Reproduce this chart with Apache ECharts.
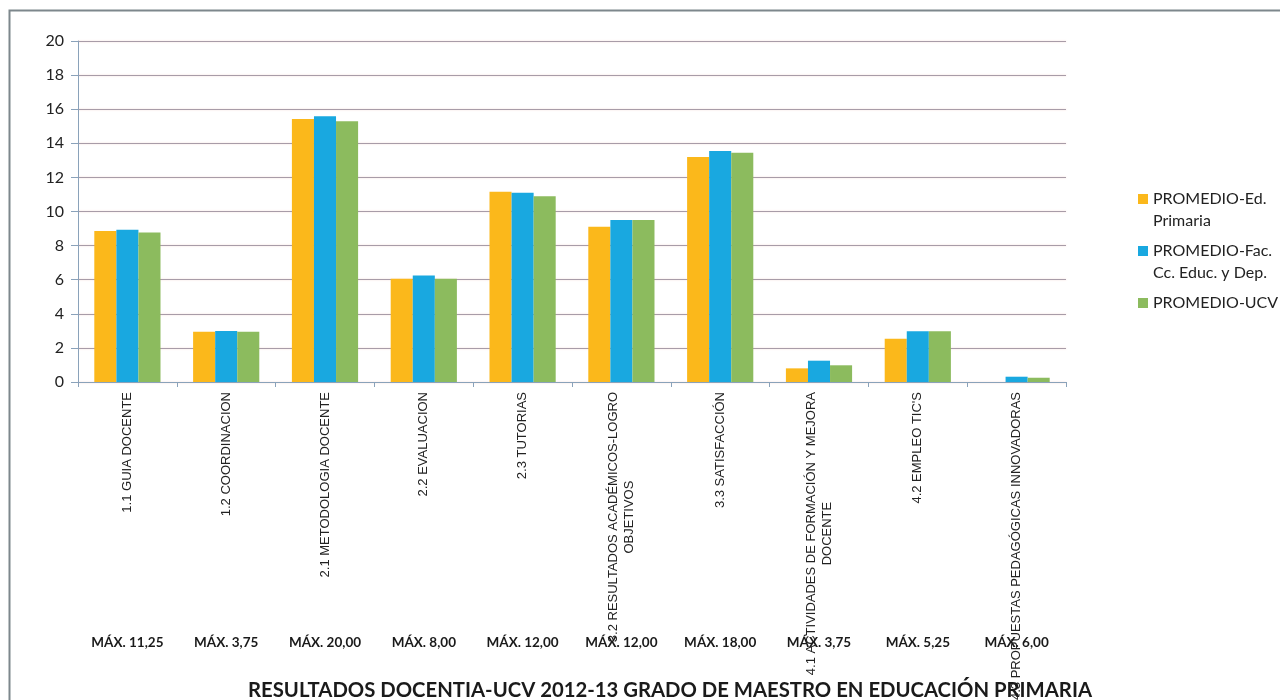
<!DOCTYPE html>
<html>
<head>
<meta charset="utf-8">
<script src="https://cdn.jsdelivr.net/npm/echarts@6/dist/echarts.min.js"></script>
<style>
html,body{margin:0;padding:0;background:#fff;}
#c{width:1280px;height:700px;}
</style>
</head>
<body>
<div id="c"></div>
<script>
const categories = [
  '1.1 GUIA DOCENTE',
  '1.2 COORDINACION',
  '2.1 METODOLOGIA DOCENTE',
  '2.2 EVALUACION',
  '2.3 TUTORIAS',
  '3.2 RESULTADOS ACADÉMICOS-LOGRO\nOBJETIVOS',
  '3.3 SATISFACCIÓN',
  '4.1 ACTIVIDADES DE FORMACIÓN Y MEJORA\nDOCENTE',
  '4.2 EMPLEO TIC\'S',
  '4.3 PROPUESTAS PEDAGÓGICAS INNOVADORAS'
];
const maxLabels = ['MÁX. 11,25','MÁX. 3,75','MÁX. 20,00','MÁX. 8,00','MÁX. 12,00','MÁX. 12,00','MÁX. 18,00','MÁX. 3,75','MÁX. 5,25','MÁX. 6,00'];
const seriesNames = ['PROMEDIO-Ed.\nPrimaria', 'PROMEDIO-Fac.\nCc. Educ. y Dep.', 'PROMEDIO-UCV'];
const edPrimaria = [8.85, 2.95, 15.42, 6.05, 11.16, 9.10, 13.20, 0.80, 2.54, 0];
const facEduc    = [8.93, 2.99, 15.58, 6.25, 11.10, 9.50, 13.55, 1.25, 2.97, 0.31];
const ucv        = [8.77, 2.95, 15.29, 6.05, 10.89, 9.50, 13.45, 0.98, 2.97, 0.25];
const yTicks = {min: 0, max: 20, interval: 2};
const titleText = 'RESULTADOS DOCENTIA-UCV 2012-13 GRADO DE MAESTRO EN EDUCACIÓN PRIMARIA';

const colors = ['#fbb81b', '#19a8e0', '#8cbb5e'];
const iconPath = 'path://M0,0L0.01,0M0,6L10,6L10,16L0,16ZM0,44L0.01,44';

const chart = echarts.init(document.getElementById('c'), null, {renderer: 'canvas'});
const option = {
  backgroundColor: '#ffffff',
  animation: false,
  color: colors,
  title: {
    text: titleText,
    left: 665,
    textAlign: 'center',
    top: 675,
    textStyle: {fontFamily: 'Lato', fontWeight: 'bold', fontSize: 20.3, color: '#1a1a1a'}
  },
  legend: {
    orient: 'vertical',
    left: 1133,
    top: 183,
    itemWidth: 10,
    itemHeight: 44,
    itemGap: 8,
    data: seriesNames.map(n => ({name: n, icon: iconPath})),
    formatter: function (name) {
      return name.indexOf('\n') >= 0 ? name : name + '\n ';
    },
    textStyle: {fontFamily: 'Lato', fontSize: 16, lineHeight: 22, color: '#222'}
  },
  grid: {left: 78, right: 214, top: 41, bottom: 318, containLabel: false, outerBoundsMode: 'none'},
  xAxis: [{
    type: 'category',
    data: categories,
    axisLine: {show: true, lineStyle: {color: '#8aa2ba', width: 1}},
    axisTick: {show: true, length: 5, lineStyle: {color: '#8aa2ba'}},
    axisLabel: {
      interval: 0,
      rotate: 90,
      margin: 10,
      fontFamily: 'Liberation Sans',
      fontSize: 13,
      color: '#222',
      formatter: function (v) {
        return v.split('\n').map(s => '{c|' + s + '}').join('\n');
      },
      rich: {c: {align: 'center', fontFamily: 'Liberation Sans', fontSize: 13, lineHeight: 16, color: '#222'}}
    }
  }, {
    type: 'category',
    data: maxLabels,
    position: 'bottom',
    offset: 254,
    gridIndex: 0,
    axisLine: {show: false},
    axisTick: {show: false},
    axisLabel: {interval: 0, margin: 0, fontFamily: 'Lato', fontWeight: 'bold', fontSize: 13.5, color: '#1a1a1a'}
  }],
  yAxis: {
    type: 'value',
    min: yTicks.min,
    max: yTicks.max,
    interval: yTicks.interval,
    axisLine: {show: true, lineStyle: {color: '#8aa2ba', width: 1}},
    axisTick: {show: true, length: 7, lineStyle: {color: '#8aa2ba'}},
    axisLabel: {fontFamily: 'Lato', fontSize: 16, color: '#222', margin: 14},
    splitLine: {show: true, lineStyle: {color: '#a89ca8', width: 1.2, shadowColor: 'rgba(225,140,120,0.35)', shadowBlur: 2}}
  },
  series: [
    {name: seriesNames[0], type: 'bar', data: edPrimaria, barGap: '0%', barCategoryGap: '33%'},
    {name: seriesNames[1], type: 'bar', data: facEduc, barGap: '0%', barCategoryGap: '33%'},
    {name: seriesNames[2], type: 'bar', data: ucv, barGap: '0%', barCategoryGap: '33%'}
  ],
  graphic: [{
    type: 'rect',
    left: 7, top: 8,
    shape: {x: 0, y: 0, width: 1300, height: 720},
    style: {fill: null, stroke: '#7d878c', lineWidth: 2},
    silent: true,
    z: 100
  }]
};
chart.setOption(option);
</script>
</body>
</html>
